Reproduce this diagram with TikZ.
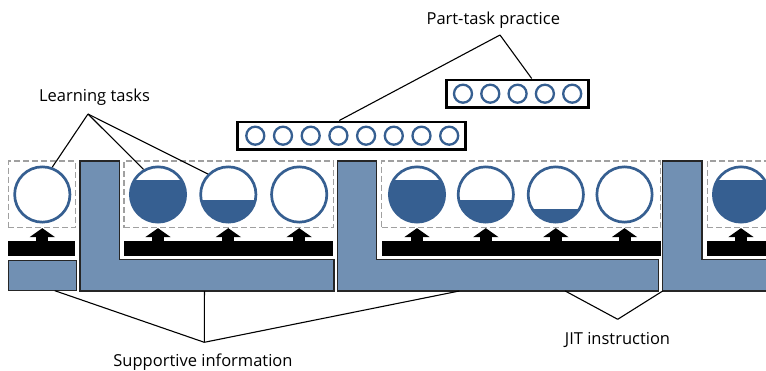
\documentclass[tikz,border=0pt]{standalone}
\usepackage{fontspec}
\setmainfont{Open Sans}
\usetikzlibrary{%
    arrows.meta,
    calc,
    positioning
}
\definecolor{siblue}{RGB}{113,144,179}
\definecolor{taskblue}{RGB}{54,95,145}
\definecolor{classgray}{RGB}{160,160,160}
\tikzset{headarrow/.style = {line width=12pt, -{Triangle[width=25pt,length=9pt]}}}

\begin{document}
\begin{tikzpicture}[x=1pt, y=-1pt,
    link/.style = {line width=1.1pt},
    caption/.style = {font=\fontsize{16.5}{20}\selectfont, inner sep=0pt, anchor=base},
    sishape/.style = {draw=black!85, line width=1.2pt, fill=siblue},
    classbox/.style = {draw=classgray, dash pattern=on 6pt off 3pt, line width=1.3pt,
        minimum height=66.5pt, inner sep=0pt},
    procbar/.style = {fill=black, minimum height=15pt, inner sep=0pt},
    task/.style = {circle, draw=taskblue, line width=2.7pt, minimum size=55.3pt, inner sep=0pt},
    filled/.style = {path picture={\fill[taskblue] (path picture bounding box.south west)
        rectangle ([yshift=#1]path picture bounding box.south east);}},
    ptpbox/.style = {draw, line width=2.9pt, fill=white, minimum height=27.5pt, inner sep=0pt},
    ptpitem/.style = {circle, draw=taskblue, line width=2.3pt, minimum size=18pt, inner sep=0pt}
    ]
    \useasboundingbox (0,0) rectangle (766,370);
    \clip (0,0) rectangle (766,370);

    % supportive information
    \draw[sishape] (8.3,260.7) -- (76.7,260.7) -- (76.7,290.7)
        -- coordinate[pos=.32] (si0) (8.3,290.7) -- cycle;
    \draw[sishape] (80,161) -- (119.4,161) -- (119.4,259.3) -- (334,259.3) -- (334,291)
        -- coordinate[pos=.51] (si1) (80,291) -- cycle;
    \draw[sishape] (337.3,161) -- (376.7,161) -- (376.7,259.3) -- (658.3,259.3) -- (658.3,291)
        -- coordinate[pos=.29] (jit1) coordinate[pos=.62] (si2) (337.3,291) -- cycle;
    \draw[sishape] (662.7,161) -- (702,161) -- (702,259.3) -- (800,259.3) -- (800,291)
        -- (662.7,291) coordinate (jit2) -- cycle;

    % task classes and procedural bars
    \foreach \Num/\Left/\Right in {1/8.3/75.3, 2/124/333.3, 3/381.7/660.7, 4/707.3/800}
        {
        \node[classbox, minimum width=\Right-\Left] (class\Num) at ({(\Left+\Right)/2},194.25) {};
        \node[procbar, minimum width=\Right-\Left] (proc\Num) at ({(\Left+\Right)/2},248.5) {};
        }

    % learning tasks
    \foreach \Name/\X/\Class/\Level in {%
        task1/42.3/1/0,
        task2/158/2/42.15,
        task3/228.3/2/22.15,
        task4/299.2/2/0,
        task5/417/3/42.15,
        task6/485.8/3/22.15,
        task7/555.8/3/13.15,
        task8/624.5/3/0,
        task9/741/4/42.15%
        }
        {
        \node[task, filled=\Level] (\Name) at (\X,194.5) {};
        \draw[headarrow] (\Name |- proc\Class.north) -- (\Name |- class\Class.south);
        }

    % part-task practice
    \node[ptpbox, minimum width=228.6pt] (ptp1) at (351.5,135.7) {};
    \node[ptpbox, minimum width=142pt] (ptp2) at (517.5,93.7) {};
    \foreach \i in {1,...,8}
        \node[ptpitem] (ptpa\i) at (227.6+27.7*\i,135.7) {};
    \foreach \i in {1,...,5}
        \node[ptpitem] (ptpb\i) at (435.7+27.3*\i,93.7) {};

    % labels
    \node[caption] (ltname) at (94.5,101.5) {Learning tasks};
    \node[caption] (ptpname) at (493.3,24.5) {Part-task practice};
    \node[caption] (siname) at (203,366) {Supportive information};
    \node[caption] (jitname) at (617.5,344) {JIT instruction};

    \coordinate (ltroot) at (88,114);
    \coordinate (ptproot) at (500,35);
    \coordinate (siroot) at (204.3,342.3);
    \coordinate (jitroot) at (617.7,319.3);

    % edges
    \foreach \Target in {task1.70, task2.120, task3.135}
        \draw[link] (ltroot) -- (\Target);
    \draw[link] (ptproot) -- ([xshift=-12.2pt]ptp1.north);
    \draw[link] (ptproot) -- ([xshift=14.2pt]ptp2.north);
    \foreach \Target in {si0, si1, si2}
        \draw[link] (siroot) -- (\Target);
    \foreach \Target in {jit1, jit2}
        \draw[link] (jitroot) -- (\Target);
\end{tikzpicture}
\end{document}
